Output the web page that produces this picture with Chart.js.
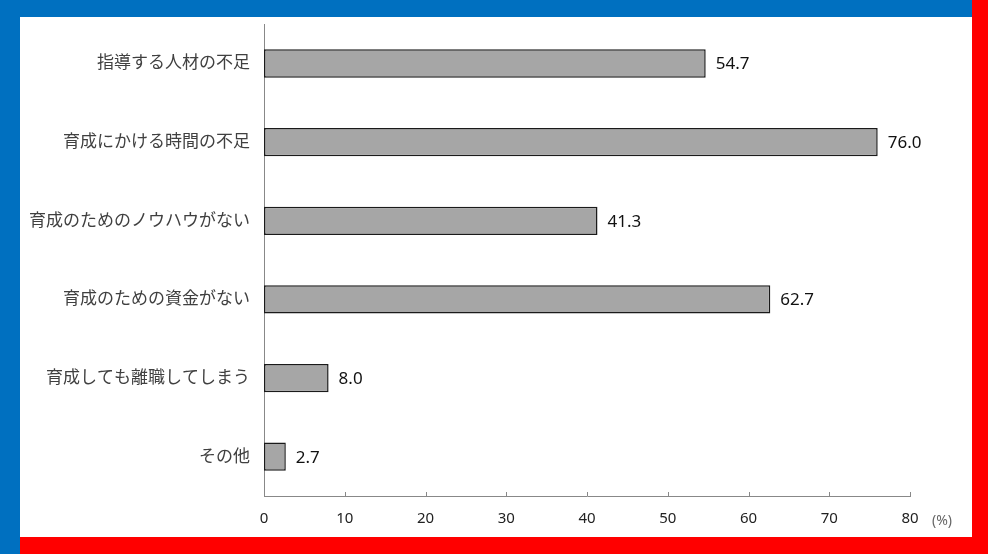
<!DOCTYPE html>
<html>
<head>
<meta charset="utf-8">
<script src="https://cdn.jsdelivr.net/npm/chart.js@4"></script>
<style>
    html, body { margin: 0; padding: 0; background: #fff; }
    .wrap { position: relative; width: 988px; height: 554px; overflow: hidden; }
    canvas { position: absolute; left: 0; top: 0; }
    .bar { position: absolute; }
    .blue-top { left: 0; top: 0; width: 972px; height: 17px; background: #0070c0; }
    .blue-left { left: 0; top: 0; width: 20px; height: 554px; background: #0070c0; }
    .red-right { left: 972px; top: 0; width: 16px; height: 554px; background: #ff0000; }
    .red-bottom { left: 20px; top: 537px; width: 968px; height: 17px; background: #ff0000; }
</style>
</head>
<body>
<div class="wrap">
    <canvas id="barChart" width="988" height="554"></canvas>
    <div class="bar blue-top"></div>
    <div class="bar blue-left"></div>
    <div class="bar red-right"></div>
    <div class="bar red-bottom"></div>
</div>
<script>
// Data
const categories = [
    "指導する人材の不足",
    "育成にかける時間の不足",
    "育成のためのノウハウがない",
    "育成のための資金がない",
    "育成しても離職してしまう",
    "その他"
];
const values = [54.7, 76.0, 41.3, 62.7, 8.0, 2.7];
const xTicks = [0, 10, 20, 30, 40, 50, 60, 70, 80];
const unitLabel = "(%)";

const fontFamily = '"Noto Sans", "Noto Sans CJK JP", sans-serif';

// value labels at bar ends + inward ticks + unit
const extras = {
    id: "extras",
    afterDatasetsDraw(chart) {
        const ctx = chart.ctx;
        const meta = chart.getDatasetMeta(0);
        ctx.save();
        ctx.fillStyle = "#111";
        ctx.font = "17px " + fontFamily;
        ctx.textAlign = "left";
        ctx.textBaseline = "middle";
        meta.data.forEach((bar, i) => {
            ctx.fillText(values[i].toFixed(1), bar.x + 10, bar.y + 1);
        });
        ctx.restore();
    },
    afterDraw(chart) {
        const ctx = chart.ctx;
        const x = chart.scales.x;
        const area = chart.chartArea;
        ctx.save();
        ctx.strokeStyle = "#888";
        ctx.lineWidth = 1;
        xTicks.slice(1).forEach(v => {
            const px = Math.round(x.getPixelForValue(v)) + 0.5;
            ctx.beginPath();
            ctx.moveTo(px, area.bottom);
            ctx.lineTo(px, area.bottom - 4);
            ctx.stroke();
        });
        ctx.fillStyle = "#666";
        ctx.font = "14px " + fontFamily;
        ctx.textAlign = "left";
        ctx.textBaseline = "middle";
        ctx.fillText(unitLabel, 932, 521);
        ctx.restore();
    }
};

new Chart(document.getElementById("barChart"), {
    type: "bar",
    data: {
        labels: categories,
        datasets: [{
            data: values,
            backgroundColor: "#a6a6a6",
            borderColor: "#1a1a1a",
            borderWidth: 1.5,
            borderSkipped: false,
            categoryPercentage: 1.0,
            barPercentage: 0.36
        }]
    },
    options: {
        indexAxis: "y",
        responsive: false,
        animation: false,
        layout: { padding: { top: 24, right: 78, left: 0, bottom: 0 } },
        plugins: {
            legend: { display: false },
            tooltip: { enabled: false }
        },
        scales: {
            x: {
                min: 0,
                max: 80,
                afterBuildTicks(scale) {
                    scale.ticks = xTicks.map(v => ({ value: v }));
                },
                afterFit(scale) { scale.height = 58; },
                grid: { display: false, drawTicks: false },
                border: { color: "#888", width: 1 },
                ticks: {
                    color: "#222",
                    padding: 14,
                    maxRotation: 0,
                    font: { family: fontFamily, size: 15 }
                }
            },
            y: {
                afterFit(scale) { scale.width = 264; },
                grid: { display: false, drawTicks: false },
                border: { color: "#888", width: 1 },
                ticks: {
                    color: "#404040",
                    padding: 14,
                    font: { family: fontFamily, size: 17 }
                }
            }
        }
    },
    plugins: [extras]
});
</script>
</body>
</html>
